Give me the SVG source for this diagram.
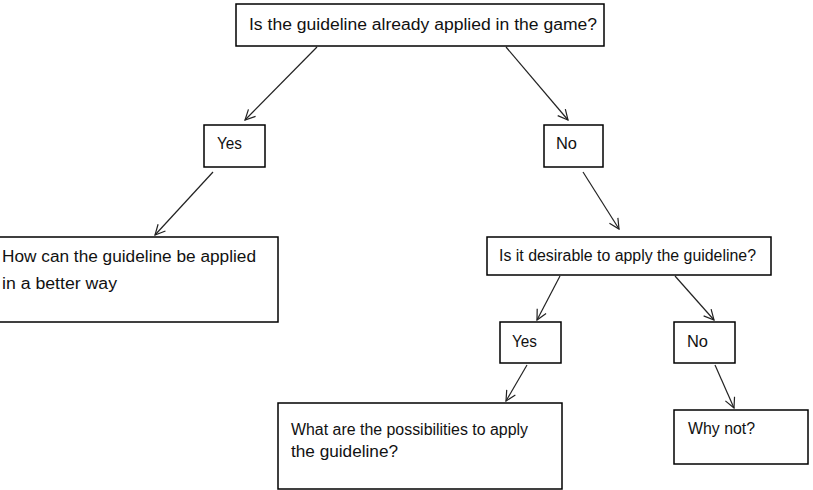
<svg xmlns="http://www.w3.org/2000/svg" width="813" height="490" viewBox="0 0 813 490">
<defs>
<style>
.box{fill:#fff;stroke:#000;stroke-width:1.5}
.t{font-family:"Liberation Sans",Arial,sans-serif;font-size:16px;fill:#111}
.c{stroke:#222;stroke-width:1.2;fill:none;marker-end:url(#ah)}
</style>
<marker id="ah" viewBox="0 0 12 12" refX="11" refY="6" markerWidth="12" markerHeight="12" markerUnits="userSpaceOnUse" orient="auto">
<path d="M1,1 L11,6 L1,11" fill="none" stroke="#222" stroke-width="1.2"/>
</marker>
</defs>
<rect width="813" height="490" fill="#fff"/>
<g id="connectors">
<line class="c" x1="317" y1="47" x2="245" y2="120"/>
<line class="c" x1="506" y1="47" x2="568" y2="120"/>
<line class="c" x1="213" y1="172" x2="155" y2="235"/>
<line class="c" x1="583" y1="172" x2="619" y2="229"/>
<line class="c" x1="560" y1="276" x2="537" y2="320"/>
<line class="c" x1="675" y1="276" x2="714" y2="320"/>
<line class="c" x1="527" y1="365" x2="506" y2="401"/>
<line class="c" x1="715" y1="365" x2="734" y2="408"/>
</g>
<g id="q1">
<rect class="box" x="236" y="4" width="368" height="42"/>
<text class="t" x="249" y="30" textLength="348" lengthAdjust="spacingAndGlyphs">Is the guideline already applied in the game?</text>
</g>
<g id="yes1">
<rect class="box" x="204" y="125" width="61" height="42"/>
<text class="t" x="217" y="149" textLength="25" lengthAdjust="spacingAndGlyphs">Yes</text>
</g>
<g id="no1">
<rect class="box" x="544" y="125" width="59" height="42"/>
<text class="t" x="556" y="149" textLength="21" lengthAdjust="spacingAndGlyphs">No</text>
</g>
<g id="better">
<rect class="box" x="-1" y="237" width="279" height="85"/>
<text class="t" x="2" y="262" textLength="254" lengthAdjust="spacingAndGlyphs">How can the guideline be applied</text>
<text class="t" x="2" y="289" textLength="115" lengthAdjust="spacingAndGlyphs">in a better way</text>
</g>
<g id="q2">
<rect class="box" x="487" y="237" width="284" height="38"/>
<text class="t" x="499" y="261" textLength="257" lengthAdjust="spacingAndGlyphs">Is it desirable to apply the guideline?</text>
</g>
<g id="yes2">
<rect class="box" x="500" y="322" width="61" height="41"/>
<text class="t" x="512" y="347" textLength="25" lengthAdjust="spacingAndGlyphs">Yes</text>
</g>
<g id="no2">
<rect class="box" x="674" y="322" width="61" height="41"/>
<text class="t" x="687" y="347" textLength="21" lengthAdjust="spacingAndGlyphs">No</text>
</g>
<g id="possibilities">
<rect class="box" x="278" y="403" width="284" height="86"/>
<text class="t" x="291" y="435" textLength="237" lengthAdjust="spacingAndGlyphs">What are the possibilities to apply</text>
<text class="t" x="291" y="457" textLength="107" lengthAdjust="spacingAndGlyphs">the guideline?</text>
</g>
<g id="whynot">
<rect class="box" x="674" y="410" width="134" height="54"/>
<text class="t" x="688" y="434" textLength="67" lengthAdjust="spacingAndGlyphs">Why not?</text>
</g>
</svg>
